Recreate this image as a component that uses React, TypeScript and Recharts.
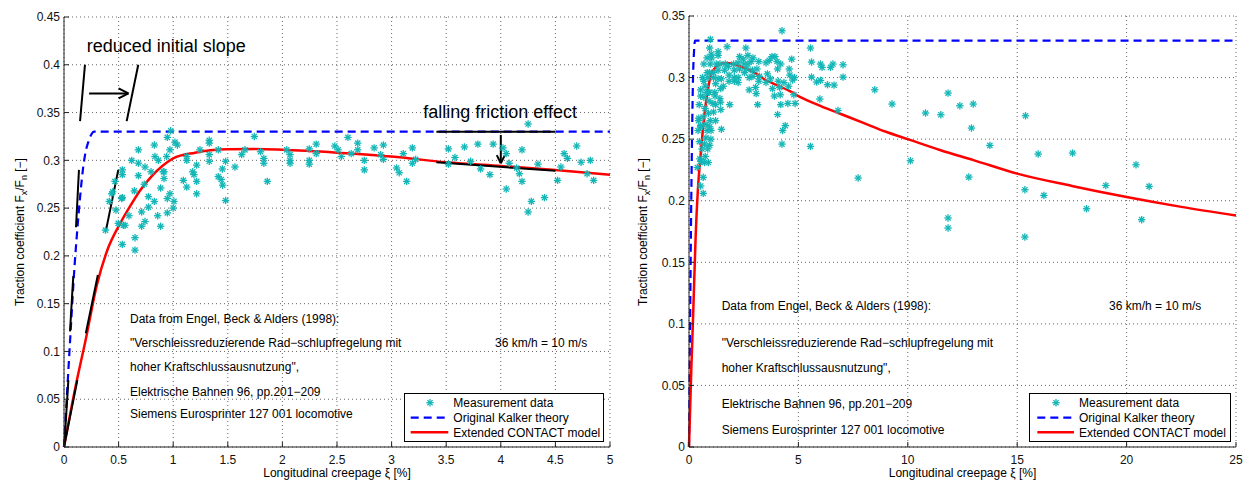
import React from 'react';
import { ComposedChart, Scatter, Line, XAxis, YAxis, CartesianGrid, ReferenceLine, Legend } from 'recharts';

const FONT = '"Liberation Sans", Arial, Helvetica, sans-serif';
const CYAN = '#12B6B6';
const BLUE = '#0000FF';
const RED = '#FF0000';

// Measurement data, creepage xi [%] vs traction coefficient (0..5 %)
const measuredLowSlip: [number, number][] = [
  [0.38, 0.227], [0.415, 0.257], [0.446, 0.267], [0.476, 0.248], [0.467, 0.278], [0.534, 0.29], [0.534, 0.285],
  [0.534, 0.261], [0.497, 0.234], [0.559, 0.232], [0.534, 0.212], [0.65, 0.206], [0.65, 0.219], [0.595, 0.242],
  [0.644, 0.268], [0.681, 0.284], [0.681, 0.311], [0.62, 0.3], [0.681, 0.297], [0.742, 0.293], [0.735, 0.275],
  [0.711, 0.246], [0.711, 0.231], [0.742, 0.236], [0.773, 0.262], [0.773, 0.251], [0.797, 0.288], [0.827, 0.316],
  [0.833, 0.304], [0.864, 0.3], [0.827, 0.257], [0.858, 0.242], [0.885, 0.231], [0.885, 0.271], [0.916, 0.288],
  [0.916, 0.281], [0.946, 0.26], [0.946, 0.245], [0.97, 0.265], [1.007, 0.257], [1.0, 0.25], [0.977, 0.331],
  [0.946, 0.324], [1.016, 0.319], [1.038, 0.316], [0.97, 0.311], [1.124, 0.304], [1.124, 0.3], [1.093, 0.279],
  [1.124, 0.272], [1.179, 0.288], [1.19, 0.285], [1.215, 0.295], [1.215, 0.278], [1.215, 0.265], [1.245, 0.311],
  [1.33, 0.321], [1.33, 0.318], [1.33, 0.306], [1.33, 0.299], [1.413, 0.311], [1.413, 0.283], [1.44, 0.28],
  [1.453, 0.274], [1.45, 0.291], [1.48, 0.299], [1.48, 0.258], [1.566, 0.293], [1.627, 0.306], [1.657, 0.311],
  [1.743, 0.325], [1.8, 0.309], [1.83, 0.302], [1.83, 0.297], [1.862, 0.278], [2.04, 0.311], [2.07, 0.306],
  [2.07, 0.3], [2.07, 0.297], [0.437, 0.265], [0.528, 0.26], [0.543, 0.232], [0.909, 0.288], [0.94, 0.304],
  [2.246, 0.312], [2.246, 0.3], [2.246, 0.296], [2.31, 0.317], [2.31, 0.307], [2.48, 0.315], [2.51, 0.311],
  [2.54, 0.304], [2.6, 0.324], [2.63, 0.307], [2.69, 0.318], [2.69, 0.311], [2.75, 0.3], [2.75, 0.29],
  [2.84, 0.313], [2.9, 0.306], [2.925, 0.316], [2.925, 0.301], [3.046, 0.292], [3.07, 0.287], [3.107, 0.307],
  [3.138, 0.278], [3.19, 0.313], [3.19, 0.297], [3.22, 0.301], [3.52, 0.312], [3.52, 0.296], [3.58, 0.303],
  [3.667, 0.314], [3.724, 0.299], [3.79, 0.317], [3.815, 0.291], [3.9, 0.285], [3.93, 0.317], [4.02, 0.313],
  [4.05, 0.307], [4.05, 0.27], [4.077, 0.297], [4.145, 0.292], [4.17, 0.286], [4.194, 0.311], [4.194, 0.278],
  [4.25, 0.338], [4.25, 0.246], [4.28, 0.257], [4.34, 0.296], [4.4, 0.261], [4.52, 0.279], [4.55, 0.293],
  [4.58, 0.307], [4.61, 0.302], [4.695, 0.315], [4.735, 0.298], [4.79, 0.286], [4.82, 0.3], [4.85, 0.279],
];

// Measurement data beyond 5 % creepage
const measuredHighSlip: [number, number][] = [
  [5.55, 0.324], [5.6, 0.3126], [6.01, 0.311], [6.08, 0.3083], [6.47, 0.3083], [6.58, 0.311], [7.04, 0.3104],
  [5.6, 0.3004], [5.83, 0.2964], [6.01, 0.2977], [6.33, 0.2942], [6.63, 0.2939], [7.04, 0.3004], [5.98, 0.2826],
  [6.81, 0.2733], [8.49, 0.2901], [9.28, 0.2785], [5.55, 0.2441], [7.73, 0.2184], [10.12, 0.2325], [10.81, 0.2712],
  [11.51, 0.2698], [11.84, 0.2874], [12.38, 0.2771], [12.99, 0.2785], [12.91, 0.259], [13.75, 0.2449],
  [12.79, 0.2192], [11.84, 0.186], [11.84, 0.1778], [15.38, 0.269], [15.96, 0.2379], [17.53, 0.2387],
  [15.35, 0.2089], [16.22, 0.2043], [15.35, 0.1705], [18.17, 0.1935], [19.05, 0.2124], [20.43, 0.2292],
  [21.03, 0.2116], [20.69, 0.1846],
];

// Original Kalker theory curve
const kalkerCurve: [number, number][] = [
  [0, 0], [0.05, 0.1], [0.1, 0.195], [0.125, 0.232], [0.15, 0.265], [0.175, 0.292], [0.2, 0.31],
  [0.225, 0.32], [0.25, 0.327], [0.275, 0.33], [0.3, 0.33], [5, 0.33], [25, 0.33],
];

// Extended CONTACT model curve
const contactCurve: [number, number][] = [
  [0, 0], [0.1, 0.06], [0.2, 0.113], [0.3, 0.169], [0.4, 0.207], [0.5, 0.231], [0.6, 0.251], [0.7, 0.269],
  [0.8, 0.283], [0.9, 0.294], [1.0, 0.302], [1.2, 0.308], [1.5, 0.3115], [1.75, 0.3118], [2, 0.311],
  [2.5, 0.308], [3, 0.304], [3.5, 0.298], [4, 0.294], [4.5, 0.29], [5, 0.285], [6, 0.277], [7, 0.27],
  [8, 0.263], [9, 0.256], [10, 0.25], [11.5, 0.241], [13, 0.233], [15, 0.222], [17.5, 0.212], [20, 0.203],
  [22.5, 0.195], [25, 0.188],
];

const xTicksLeft = [0, 0.5, 1, 1.5, 2, 2.5, 3, 3.5, 4, 4.5, 5];
const yTicksLeft = [0, 0.05, 0.1, 0.15, 0.2, 0.25, 0.3, 0.35, 0.4, 0.45];
const xTicksRight = [0, 5, 10, 15, 20, 25];
const yTicksRight = [0, 0.05, 0.1, 0.15, 0.2, 0.25, 0.3, 0.35];

// Annotation segments (data coordinates) on the left chart
const annotationSegments: [number, number, number, number][] = [
  [0.147, 0.341, 0.192, 0.4],
  [0.574, 0.341, 0.68, 0.4],
  [0.23, 0.37, 0.59, 0.37],
  [0.59, 0.37, 0.5, 0.3752],
  [0.59, 0.37, 0.5, 0.3648],
  [0.003, 0.002, 0.04, 0.07],
  [0.055, 0.121, 0.085, 0.179],
  [0.11, 0.23, 0.137, 0.29],
  [0.0, 0.0, 0.122, 0.07],
  [0.2, 0.119, 0.31, 0.18],
  [0.385, 0.227, 0.497, 0.29],
  [3.41, 0.33, 4.5, 0.33],
  [3.41, 0.298, 4.5, 0.289],
  [4.0, 0.3265, 4.0, 0.297],
  [4.0, 0.297, 3.963, 0.3055],
  [4.0, 0.297, 4.037, 0.3055],
];

const sourceLines = [
  'Data from Engel, Beck & Alders (1998):',
  '"Verschleissreduzierende Rad\u2212schlupfregelung mit',
  'hoher Kraftschlussausnutzung",',
  'Elektrische Bahnen 96, pp.201\u2212209',
  'Siemens Eurosprinter 127 001 locomotive',
];
const speedNote = '36 km/h = 10 m/s';
const legendLabels = ['Measurement data', 'Original Kalker theory', 'Extended CONTACT model'];

const toPts = (arr: [number, number][]) => arr.map(([x, y]) => ({ x, y }));

const Star = (props: any) => {
  const { cx, cy } = props;
  if (cx == null || cy == null || isNaN(cx) || isNaN(cy)) return null;
  const r = 3.7;
  const d = 2.6;
  return (
    <g stroke={CYAN} strokeWidth={1.3}>
      <line x1={cx - r} y1={cy} x2={cx + r} y2={cy} />
      <line x1={cx} y1={cy - r} x2={cx} y2={cy + r} />
      <line x1={cx - d} y1={cy - d} x2={cx + d} y2={cy + d} />
      <line x1={cx - d} y1={cy + d} x2={cx + d} y2={cy - d} />
    </g>
  );
};

const LegendBox = ({ width, lineX1, lineX2, markX, textX }: any) => {
  const rows = [9.7, 24.7, 39.3];
  return (
    <svg width={width} height={49} style={{ display: 'block' }}>
      <rect x={0.5} y={0.5} width={width - 1} height={48} fill="#fff" stroke="#000" strokeWidth={1} />
      <Star cx={markX} cy={rows[0]} />
      <line x1={lineX1} x2={lineX2} y1={rows[1]} y2={rows[1]} stroke={BLUE} strokeWidth={2.2} strokeDasharray="8 5" />
      <line x1={lineX1} x2={lineX2} y1={rows[2]} y2={rows[2]} stroke={RED} strokeWidth={2.5} />
      {legendLabels.map((l, i) => (
        <text key={l} x={textX} y={rows[i] + 4.3} fontSize={12} fontFamily={FONT} fill="#000">{l}</text>
      ))}
    </svg>
  );
};

const tickStyle = { fontSize: 12, fill: '#111', fontFamily: FONT };

export default function App() {
  const lowPts = toPts(measuredLowSlip);
  const allPts = toPts([...measuredLowSlip, ...measuredHighSlip]);
  const kalkerLeft = toPts(kalkerCurve.filter(([x]) => x <= 5));
  const contactLeft = toPts(contactCurve.filter(([x]) => x <= 5));
  const kalkerAll = toPts(kalkerCurve);
  const contactAll = toPts(contactCurve);

  const yLabel = (x: number) => (
    <text transform={`translate(${x},232) rotate(-90)`} textAnchor="middle" fontSize={12} fontFamily={FONT} fill="#000">
      Traction coefficient F<tspan dy={3} fontSize={9}>x</tspan><tspan dy={-3}>/F</tspan>
      <tspan dy={3} fontSize={9}>n</tspan><tspan dy={-3}> [{'\u2212'}]</tspan>
    </text>
  );

  return (
    <div style={{ position: 'absolute', left: 0, top: 0, width: 1243, height: 481, background: '#fff' }}>
      <div style={{ position: 'absolute', left: 0, top: 0 }}>
        <ComposedChart width={620} height={481} margin={{ top: 17, right: 10, bottom: 0, left: 0 }}>
          <CartesianGrid stroke="#666" strokeDasharray="1 3" />
          <XAxis type="number" dataKey="x" domain={[0, 5]} ticks={xTicksLeft} interval={0} height={34}
            tickSize={-5} tickMargin={13} stroke="#222" tick={tickStyle} />
          <YAxis type="number" domain={[0, 0.45]} ticks={yTicksLeft} interval={0} width={64}
            tickSize={-5} tickMargin={9} stroke="#222" tick={tickStyle} />
          <Scatter data={lowPts} dataKey="y" shape={Star} isAnimationActive={false} />
          <Line data={kalkerLeft} dataKey="y" type="monotone" stroke={BLUE} strokeWidth={2.2} strokeDasharray="8 5"
            dot={false} activeDot={false} isAnimationActive={false} />
          <Line data={contactLeft} dataKey="y" type="monotone" stroke={RED} strokeWidth={2.5}
            dot={false} activeDot={false} isAnimationActive={false} />
          {annotationSegments.map((s, i) => (
            <ReferenceLine key={i} segment={[{ x: s[0], y: s[1] }, { x: s[2], y: s[3] }]} stroke="#000" strokeWidth={2} ifOverflow="visible" />
          ))}
          <Legend layout="vertical" align="center" verticalAlign="middle" wrapperStyle={{ left: 404, top: 393, width: 200 }}
            content={() => <LegendBox width={200} lineX1={6.7} lineX2={44.3} markX={26} textX={49.3} />} />
        </ComposedChart>
      </div>
      <div style={{ position: 'absolute', left: 630, top: 0 }}>
        <ComposedChart width={613} height={481} margin={{ top: 16, right: 7, bottom: 0, left: 0 }}>
          <CartesianGrid stroke="#666" strokeDasharray="1 3" />
          <XAxis type="number" dataKey="x" domain={[0, 25]} ticks={xTicksRight} interval={0} height={34}
            tickSize={-5} tickMargin={13} stroke="#222" tick={tickStyle} />
          <YAxis type="number" domain={[0, 0.35]} ticks={yTicksRight} interval={0} width={59}
            tickSize={-5} tickMargin={9} stroke="#222" tick={tickStyle} />
          <Scatter data={allPts} dataKey="y" shape={Star} isAnimationActive={false} />
          <Line data={kalkerAll} dataKey="y" type="monotone" stroke={BLUE} strokeWidth={2.2} strokeDasharray="8 5"
            dot={false} activeDot={false} isAnimationActive={false} />
          <Line data={contactAll} dataKey="y" type="monotone" stroke={RED} strokeWidth={2.5}
            dot={false} activeDot={false} isAnimationActive={false} />
          <Legend layout="vertical" align="center" verticalAlign="middle" wrapperStyle={{ left: 399, top: 393, width: 202 }}
            content={() => <LegendBox width={202} lineX1={8.3} lineX2={45} markX={27} textX={50} />} />
        </ComposedChart>
      </div>
      <svg width={1243} height={481} style={{ position: 'absolute', left: 0, top: 0, pointerEvents: 'none' }}>
        {yLabel(24)}
        {yLabel(647)}
        <text x={337} y={477} textAnchor="middle" fontSize={12} fontFamily={FONT} fill="#000">Longitudinal creepage {'\u03BE'} [%]</text>
        <text x={962.5} y={477} textAnchor="middle" fontSize={12} fontFamily={FONT} fill="#000">Longitudinal creepage {'\u03BE'} [%]</text>
        <text x={86.7} y={51.7} fontSize={18} fontFamily={FONT} fill="#000">reduced initial slope</text>
        <text x={423.3} y={118.3} fontSize={18} fontFamily={FONT} fill="#000">falling friction effect</text>
        {[323.3, 347, 371.3, 396, 418.3].map((y, i) => (
          <text key={'l' + i} x={130} y={y} fontSize={12} fontFamily={FONT} fill="#000">{sourceLines[i]}</text>
        ))}
        <text x={495} y={347} fontSize={12} fontFamily={FONT} fill="#000">{speedNote}</text>
        {[310.3, 347.3, 371.6, 408.3, 434.3].map((y, i) => (
          <text key={'r' + i} x={721.7} y={y} fontSize={12} fontFamily={FONT} fill="#000">{sourceLines[i]}</text>
        ))}
        <text x={1109} y={310.3} fontSize={12} fontFamily={FONT} fill="#000">{speedNote}</text>
      </svg>
    </div>
  );
}
